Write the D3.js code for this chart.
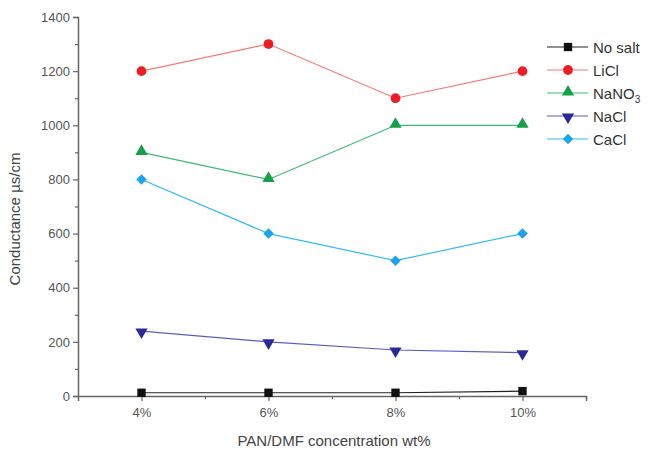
<!DOCTYPE html>
<html>
<head>
<meta charset="utf-8">
<script src="https://cdn.jsdelivr.net/npm/d3@7"></script>
<style>
    body { margin: 0; background: #fff; }
    text { font-family: "Liberation Sans", Arial, sans-serif; }
</style>
</head>
<body>
<svg id="chart" width="650" height="452"></svg>
<script>
// data
const concentrations = [4, 6, 8, 10];
const tickLabels = ["4%", "6%", "8%", "10%"];
const seriesNames = ["No salt", "LiCl", "NaNO3", "NaCl", "CaCl"];
const noSalt = [12, 12, 12, 18];
const liCl = [1200, 1300, 1100, 1200];
const naNO3 = [900, 800, 1000, 1000];
const naCl = [240, 200, 170, 160];
const caCl = [800, 600, 500, 600];

const styles = [
    {line: "#222", fill: "#111", symbol: d3.symbolSquare, size: 70},
    {line: "#f47a7a", fill: "#ee1c24", symbol: d3.symbolCircle, size: 75},
    {line: "#3cb878", fill: "#14a04a", symbol: d3.symbolTriangle, size: 65, dy: -1},
    {line: "#5c5cc0", fill: "#2a2a96", symbol: d3.symbolTriangle, size: 65, rot: 180, dy: 1},
    {line: "#33bbee", fill: "#1aa4ee", symbol: d3.symbolSquare, size: 55, rot: 45}
];
const series = [noSalt, liCl, naNO3, naCl, caCl];

const svg = d3.select("#chart");

const x = d3.scaleLinear().domain([3, 11]).range([78, 586]);
const y = d3.scaleLinear().domain([0, 1400]).range([396, 17]);

const axisColor = "#666";

// y axis
svg.append("g").attr("transform", "translate(78,0)")
    .call(d3.axisLeft(y).tickValues(d3.range(0, 1401, 200)).tickSize(5).tickPadding(3)
        .tickFormat(d3.format("d")));
svg.append("g").attr("transform", "translate(78,0)")
    .call(d3.axisLeft(y).tickValues(d3.range(100, 1400, 200)).tickSize(3).tickFormat(""))
    .select(".domain").remove();

// x axis
svg.append("g").attr("transform", "translate(0,396)")
    .call(d3.axisBottom(x).tickValues(concentrations).tickSize(5).tickPadding(7)
        .tickFormat((d, i) => tickLabels[i]));
svg.append("g").attr("transform", "translate(0,396)")
    .call(d3.axisBottom(x).tickValues([5, 7, 9, 11]).tickSize(3).tickFormat(""))
    .select(".domain").remove();

svg.selectAll(".domain").attr("stroke", axisColor).attr("stroke-width", 1.5);
svg.selectAll(".tick line").attr("stroke", axisColor).attr("stroke-width", 1.2);
svg.selectAll(".tick text").attr("fill", "#555").style("font-size", "13px")
    .style("font-family", "Liberation Sans, Arial, sans-serif");

// axis titles
svg.append("text")
    .attr("x", 334).attr("y", 446)
    .attr("text-anchor", "middle")
    .attr("fill", "#444")
    .style("font-size", "15px")
    .text("PAN/DMF concentration wt%");

svg.append("text")
    .attr("transform", "translate(20,219) rotate(-90)")
    .attr("text-anchor", "middle")
    .attr("fill", "#444")
    .style("font-size", "15px")
    .text("Conductance µs/cm");

// lines + markers
const line = d3.line().x((d, i) => x(concentrations[i])).y(d => y(d));

series.forEach((vals, k) => {
    const st = styles[k];
    svg.append("path")
        .datum(vals)
        .attr("d", line)
        .attr("fill", "none")
        .attr("stroke", st.line)
        .attr("stroke-width", 1.2);

    svg.selectAll(".m" + k)
        .data(vals)
        .enter().append("path")
        .attr("d", d3.symbol().type(st.symbol).size(st.size))
        .attr("transform", (d, i) => "translate(" + x(concentrations[i]) + "," + (y(d) + (st.dy || 0)) + ")" + (st.rot ? " rotate(" + st.rot + ")" : ""))
        .attr("fill", st.fill);
});

// legend
const legend = svg.append("g").attr("transform", "translate(547,47)");
seriesNames.forEach((name, k) => {
    const st = styles[k];
    const g = legend.append("g").attr("transform", "translate(0," + (k * 23) + ")");
    g.append("line").attr("x1", 0).attr("x2", 41).attr("y1", 0).attr("y2", 0)
        .attr("stroke", st.line).attr("stroke-width", 1.2);
    g.append("path")
        .attr("d", d3.symbol().type(st.symbol).size(st.size))
        .attr("transform", "translate(21," + (st.dy || 0) + ")" + (st.rot ? " rotate(" + st.rot + ")" : ""))
        .attr("fill", st.fill);
    const t = g.append("text").attr("x", 46).attr("y", 5.5)
        .attr("fill", "#333")
        .style("font-size", "15px");
    if (name === "NaNO3") {
        t.append("tspan").text("NaNO");
        t.append("tspan").attr("dy", 4).style("font-size", "10px").text("3");
    } else {
        t.text(name);
    }
});
</script>
</body>
</html>
